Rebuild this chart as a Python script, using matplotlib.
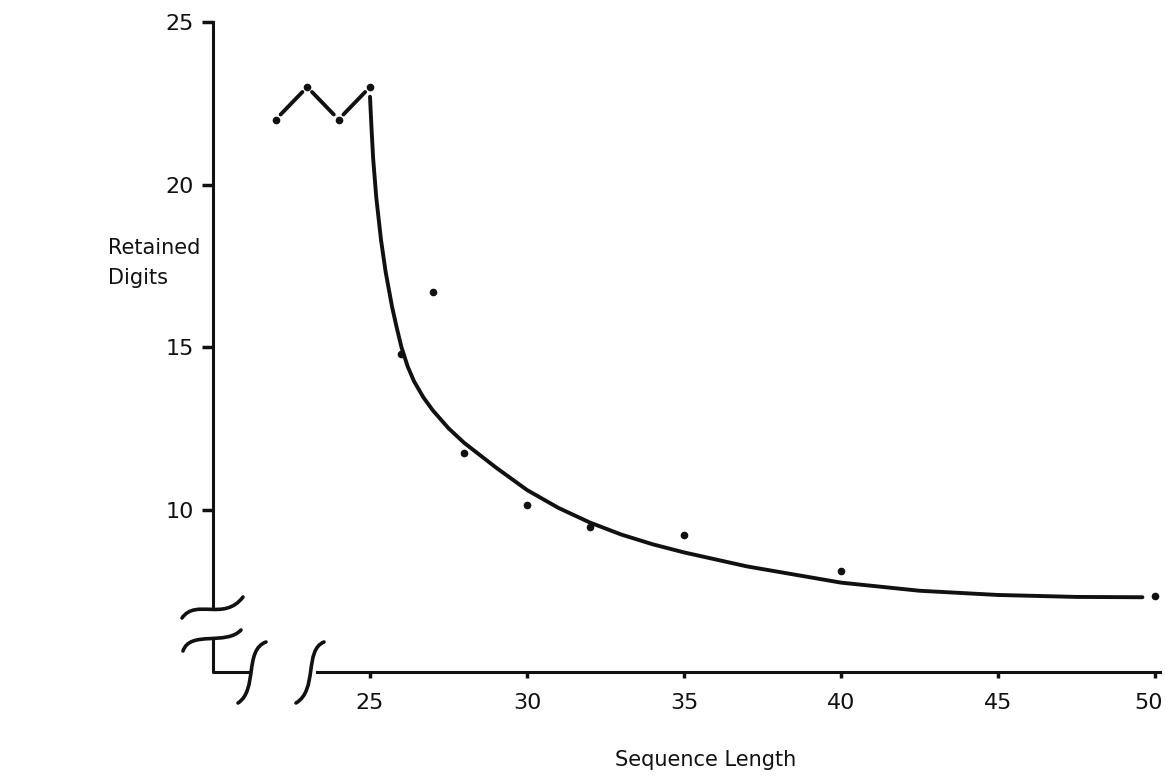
import matplotlib
matplotlib.use("Agg")
import matplotlib.pyplot as plt
import matplotlib.transforms as mtransforms
from matplotlib.path import Path
from matplotlib.patches import PathPatch

# ---- data ----
zig_x = [22, 23, 24, 25]
zig_y = [22.0, 23.0, 22.0, 23.0]

dot_x = [26, 27, 28, 30, 32, 35, 40, 50]
dot_y = [14.8, 16.7, 11.75, 10.15, 9.45, 9.23, 8.1, 7.33]

curve_x = [25.0, 25.05, 25.1, 25.2, 25.35, 25.5, 25.7, 25.85, 26.0, 26.2, 26.4,
           26.7, 27.0, 27.5, 28.0, 29.0, 30.0, 31.0, 32.0, 33.0, 34.0, 35.0,
           37.0, 40.0, 42.5, 45.0, 47.5, 49.6]
curve_y = [22.7, 21.7, 20.8, 19.6, 18.3, 17.3, 16.25, 15.6, 15.0, 14.4, 13.95,
           13.45, 13.05, 12.5, 12.05, 11.3, 10.6, 10.05, 9.6, 9.23, 8.93, 8.68,
           8.25, 7.75, 7.5, 7.37, 7.31, 7.3]

x_ticks = [25, 30, 35, 40, 45, 50]
y_ticks = [10, 15, 20, 25]

W, H = 1166, 777
INK = "#111111"

fig = plt.figure(figsize=(W / 100, H / 100), dpi=100)
ax = fig.add_axes([213 / W, 1 - 672 / H, (50.15 - 20) * 31.4 / W, 650 / H])
ax.set_xlim(20, 50.15)
ax.set_ylim(5, 25)

for s in ["top", "right"]:
    ax.spines[s].set_visible(False)
ax.spines["left"].set_bounds(6.96, 25)
ax.spines["bottom"].set_bounds(23.3, 50.15)
for s in ["left", "bottom"]:
    ax.spines[s].set_linewidth(2.2)
    ax.spines[s].set_color(INK)

ax.set_xticks(x_ticks)
ax.set_yticks(y_ticks)
ax.set_xticklabels([str(v) for v in x_ticks])
ax.set_yticklabels([str(v) for v in y_ticks])
ax.tick_params(axis="y", direction="out", length=8, width=2.5, pad=6,
               labelsize=16, colors=INK)
ax.tick_params(axis="x", direction="out", length=4, width=2.5, pad=11,
               labelsize=16, colors=INK)
# keep the last x label inside the canvas
last = ax.get_xticklabels()[-1]
last.set_transform(last.get_transform() +
                   mtransforms.ScaledTranslation(-6 / 100, 0, fig.dpi_scale_trans))

# curve
ax.plot(curve_x, curve_y, color=INK, lw=2.8, solid_capstyle="round",
        solid_joinstyle="round", clip_on=False)

# zigzag segments with gaps at the dots
for i in range(len(zig_x) - 1):
    ax.annotate("", xy=(zig_x[i + 1], zig_y[i + 1]), xytext=(zig_x[i], zig_y[i]),
                arrowprops=dict(arrowstyle="-", shrinkA=5, shrinkB=5, lw=2.8,
                                color=INK))
ax.plot(zig_x, zig_y, "o", color=INK, ms=4.5, clip_on=False)
ax.plot(dot_x, dot_y, "o", color=INK, ms=4.5, clip_on=False)


# ---- axis break decorations (figure pixel coords) ----
def P(px, py):
    return (px / W, 1 - py / H)


def bez(pts, lw=2.6):
    verts = [P(*p) for p in pts]
    path = Path(verts, [Path.MOVETO, Path.CURVE4, Path.CURVE4, Path.CURVE4])
    fig.patches.append(PathPatch(path, transform=fig.transFigure, fill=False,
                                 lw=lw, color=INK, capstyle="round"))


def seg(pts, lw=2.2):
    xs = [P(*p)[0] for p in pts]
    ys = [P(*p)[1] for p in pts]
    fig.lines.append(plt.Line2D(xs, ys, transform=fig.transFigure, lw=lw,
                                color=INK, solid_capstyle="butt"))


bez([(182, 618), (196, 598), (224, 622), (243, 597)])
bez([(183, 651), (190, 630), (226, 646), (241, 630)])
seg([(213, 639), (213, 672), (250, 672)])
bez([(266, 642), (244, 650), (258, 690), (238, 703)])
bez([(324, 642), (304, 650), (318, 690), (296, 703)])

fig.text(706 / W, 1 - 760 / H, "Sequence Length", fontsize=15, color=INK,
         ha="center", va="center")
fig.text(108 / W, 1 - 263 / H, "Retained\nDigits", fontsize=15, color=INK,
         ha="left", va="center", linespacing=1.6)

fig.savefig("out.png", dpi=100, facecolor="white")
